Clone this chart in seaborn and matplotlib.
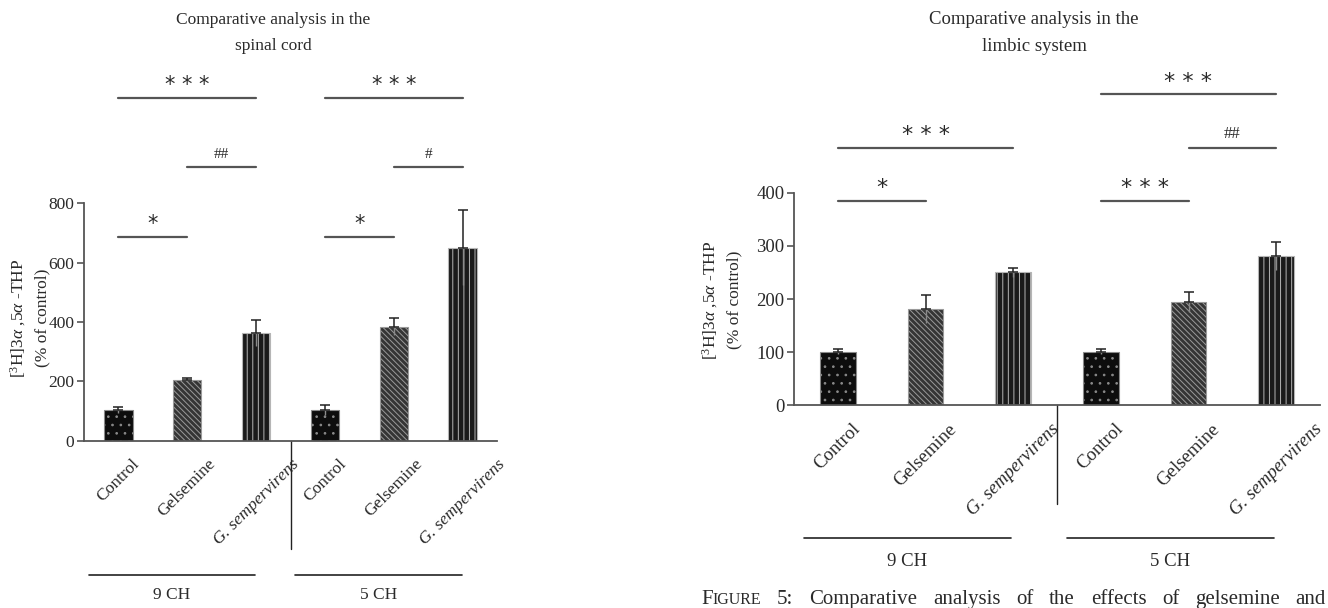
import matplotlib
matplotlib.use("Agg")
import matplotlib.pyplot as plt
import matplotlib.transforms as mtransforms
import numpy as np
import pandas as pd
import seaborn as sns

# Data
treatments = ['Control', 'Gelsemine', 'G. sempervirens']
dilutions = ['9 CH', '5 CH']

spinal_means = [103, 205, 364, 103, 385, 651]
spinal_errs = [10, 5, 43, 17, 30, 126]

limbic_means = [101, 181, 250, 101, 195, 281]
limbic_errs = [5, 26, 9, 5, 19, 26]

# significance bars: (start, end, height, label)
spinal_sig = [(0, 1, 687, '*'), (1, 2, 923, '##'), (0, 2, 1157, '* * *'),
              (3, 4, 687, '*'), (4, 5, 923, '#'), (3, 5, 1157, '* * *')]
limbic_sig = [(0, 1, 384, '*'), (0, 2, 485, '* * *'),
              (3, 4, 384, '* * *'), (4, 5, 485, '##'), (3, 5, 585, '* * *')]

caption = 'FIGURE 5: Comparative analysis of the effects of gelsemine and'

sns.set_theme(style="white")
plt.rcParams['font.family'] = ['Liberation Serif', 'DejaVu Serif']
plt.rcParams['mathtext.fontset'] = 'custom'
plt.rcParams['mathtext.rm'] = 'Liberation Serif'
plt.rcParams['mathtext.it'] = 'Liberation Serif:italic'
plt.rcParams['hatch.linewidth'] = 0.7

TXT = '#2a2a2a'
LINE = '#555555'

face_colors = ['#0d0d0d', '#353535', '#1a1a1a']
hatch_colors = ['#8a8a8a', '#9a9a9a', '#b5b5b5']
hatches = ['..', '\\\\\\\\\\\\', '|||']

fig = plt.figure(figsize=(13.28, 6.08), dpi=100)
W, H = 1328, 608


def draw_panel(rect, means, errs, sig, ymax_axis, ymax, step, sep_len, grp_y, lab_y,
               grp_spans, fs):
    ax = fig.add_axes(rect)
    keys = [f'{t}|{d}' for d in dilutions for t in treatments]
    df = pd.DataFrame({'key': keys, 'value': means})
    sns.barplot(data=df, x='key', y='value', order=keys, ax=ax, width=0.41,
                color='black', errorbar=None)
    for i, p in enumerate(ax.patches):
        k = i % 3
        p.set_facecolor(face_colors[k])
        p.set_edgecolor(hatch_colors[k])
        p.set_hatch(hatches[k])
        p.set_linewidth(0.8)
    x = np.arange(6)
    m = np.array(means)
    e = np.array(errs)
    ax.vlines(x, m - e, m, color='#8a8a8a', lw=1.0, zorder=3)
    ax.errorbar(x, m, yerr=[np.zeros(6), e], fmt='none', ecolor='#222222',
                elinewidth=1.1, capsize=3.5, capthick=1.1, zorder=4)

    ax.set_xlim(-0.5, 5.5)
    ax.set_ylim(0, ymax)
    ax.set_yticks(np.arange(0, ymax_axis + 1, step))
    ax.spines['left'].set_bounds(0, ymax_axis)
    for s in ['top', 'right']:
        ax.spines[s].set_visible(False)
    for s in ['left', 'bottom']:
        ax.spines[s].set_color(LINE)
        ax.spines[s].set_linewidth(1.3)
    ax.set_xlabel('')
    ax.set_ylabel('')

    ax.set_xticks(x)
    ax.set_xticklabels(treatments * 2, rotation=45, ha='center', va='top',
                       fontsize=fs, color=TXT)
    for i, lab in enumerate(ax.get_xticklabels()):
        if i % 3 == 2:
            lab.set_fontstyle('italic')
    ax.set_xticks(np.arange(-0.5, 6, 1.0), minor=True)
    ax.tick_params(axis='x', which='major', length=0, pad=11)
    ax.tick_params(axis='x', which='minor', length=5, width=1.2, color=LINE, direction='out')
    ax.tick_params(axis='y', length=5, width=1.2, color=LINE, direction='out',
                   labelsize=fs, labelcolor=TXT, pad=2, left=True)

    for a, b, h, lab in sig:
        ax.plot([a, b], [h, h], color=LINE, lw=1.6, clip_on=False)
        if '#' in lab:
            ax.annotate(lab, xy=((a + b) / 2, h), xytext=(0, 4), textcoords='offset points',
                        ha='center', va='bottom', fontsize=fs - 1.5, color=TXT,
                        annotation_clip=False)
        else:
            ax.annotate(lab, xy=((a + b) / 2, h), xytext=(0, 2), textcoords='offset points',
                        ha='center', va='bottom', fontsize=fs + 2.5, color=TXT,
                        family='DejaVu Sans', annotation_clip=False)

    tr = mtransforms.blended_transform_factory(ax.transData, ax.transAxes)
    ax.plot([2.5, 2.5], [0, -sep_len], color='#222222', lw=1.0, transform=tr, clip_on=False)
    for (a, b), lab in zip(grp_spans, dilutions):
        ax.plot([a, b], [grp_y, grp_y], color='#222222', lw=1.2, transform=tr, clip_on=False)
        ax.text((a + b) / 2, lab_y, lab, transform=tr, ha='center', va='center',
                fontsize=fs, color=TXT)
    return ax


ylab = '[$^3$H]3$\\alpha$ ,5$\\alpha$ -THP\n(% of control)'

# left panel: spinal cord
draw_panel([84 / W, (H - 440.7) / H, 413 / W, 355.8 / H],
           spinal_means, spinal_errs, spinal_sig, 800, 1200, 200,
           0.304, -0.378, -0.435, [(-0.43, 1.99), (2.57, 4.99)], 12.5)
fig.text(273 / W, 1 - 33 / H, 'Comparative analysis in the\nspinal cord', ha='center',
         va='center', fontsize=12.5, color=TXT, linespacing=1.85)
fig.text(29 / W, 1 - 318 / H, ylab, rotation=90, ha='center', va='center',
         fontsize=12.5, color=TXT, multialignment='center', linespacing=1.55)

# right panel: limbic system (the original is stretched sideways, so text is a bit larger)
draw_panel([794 / W, (H - 405.3) / H, 526 / W, 318.9 / H],
           limbic_means, limbic_errs, limbic_sig, 400, 600, 100,
           0.31, -0.417, -0.49, [(-0.39, 1.98), (2.61, 4.98)], 13.5)
fig.text(1034 / W, 1 - 33 / H, 'Comparative analysis in the\nlimbic system', ha='center',
         va='center', fontsize=13.5, color=TXT, linespacing=1.71)
fig.text(721 / W, 1 - 300 / H, ylab, rotation=90, ha='center', va='center',
         fontsize=12.5, color=TXT, multialignment='center', linespacing=1.55)

# figure caption at the bottom edge, justified, "Figure" in small caps
base_y = 1 - 604 / H
fig.canvas.draw()
renderer = fig.canvas.get_renderer()
words = caption.split(' ')
pieces = []
for w in words:
    if w == 'FIGURE':
        t1 = fig.text(0, base_y, 'F', fontsize=15, color=TXT, va='baseline')
        t2 = fig.text(0, base_y, 'IGURE', fontsize=11.5, color=TXT, va='baseline')
        pieces.append([t1, t2])
    else:
        pieces.append([fig.text(0, base_y, w, fontsize=15, color=TXT, va='baseline')])
widths = [[t.get_window_extent(renderer).width for t in p] for p in pieces]
total = sum(sum(w) for w in widths)
x_start, x_end = 701, 1326
gap = (x_end - x_start - total) / (len(pieces) - 1)
xpos = x_start
for p, ws in zip(pieces, widths):
    for t, w in zip(p, ws):
        t.set_x(xpos / W)
        xpos += w
    xpos += gap

plt.savefig('out.png', dpi=100)
